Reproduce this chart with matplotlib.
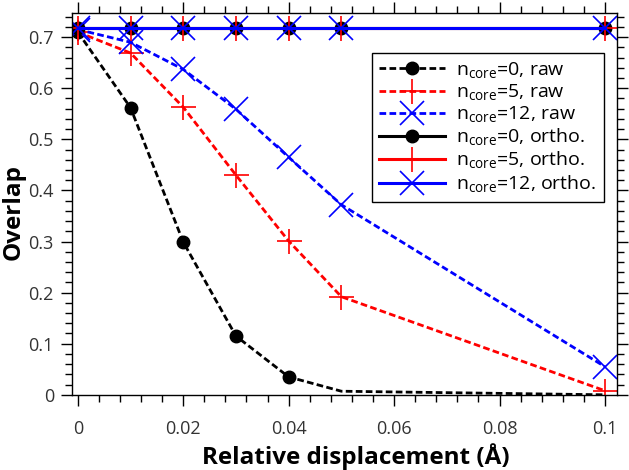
#Overlap vs relative displacement, raw and orthogonalised

import matplotlib
matplotlib.use('Agg')
import matplotlib.pyplot as plt
from matplotlib.ticker import MultipleLocator

"""
Values read off the reference plot
"""

disp = [0.0, 0.01, 0.02, 0.03, 0.04, 0.05, 0.1] #relative displacement, Angstrom
raw_n0 = [0.710, 0.562, 0.299, 0.115, 0.035, 0.007, 0.0]
raw_n5 = [0.710, 0.669, 0.563, 0.430, 0.301, 0.192, 0.008]
raw_n12 = [0.715, 0.690, 0.637, 0.559, 0.465, 0.372, 0.055]
ortho_n0 = [0.717, 0.717, 0.717, 0.717, 0.717, 0.717, 0.717]
ortho_n5 = [0.717, 0.717, 0.717, 0.717, 0.717, 0.717, 0.717]
ortho_n12 = [0.717, 0.717, 0.717, 0.717, 0.717, 0.717, 0.717]
labels = [r'n$_{\mathrm{core}}$=0, raw', r'n$_{\mathrm{core}}$=5, raw',
          r'n$_{\mathrm{core}}$=12, raw', r'n$_{\mathrm{core}}$=0, ortho.',
          r'n$_{\mathrm{core}}$=5, ortho.', r'n$_{\mathrm{core}}$=12, ortho.']

plt.rcParams['font.family'] = ['Open Sans', 'DejaVu Sans']
plt.rcParams['mathtext.fontset'] = 'custom'
plt.rcParams['mathtext.rm'] = 'Open Sans'

fig = plt.figure(figsize=(6.29, 4.70), dpi=100)
ax = fig.add_axes([0.1145, 0.16, 0.8665, 0.812])

dash = (0, (2.4, 1.2))
#raw curves
ax.plot(disp, raw_n0, color='k', ls=dash, lw=2.0, marker='o', ms=9,
        markevery=[0, 1, 2, 3, 4], label=labels[0])
ax.plot(disp, raw_n5, color='red', ls=dash, lw=2.0, marker='+', ms=18,
        mew=1.2, label=labels[1])
ax.plot(disp, raw_n12, color='blue', ls=dash, lw=2.0, marker='x', ms=17,
        mew=1.2, label=labels[2])
#orthogonalised curves
ax.plot(disp, ortho_n0, color='k', lw=2.2, marker='o', ms=9, label=labels[3])
ax.plot(disp, ortho_n5, color='red', lw=2.2, marker='+', ms=18, mew=1.2,
        label=labels[4])
ax.plot(disp, ortho_n12, color='blue', lw=2.2, marker='x', ms=17, mew=1.2,
        label=labels[5])

ax.set_xlim(-0.0011, 0.1023)
ax.set_ylim(0, 0.747)
ax.xaxis.set_major_locator(MultipleLocator(0.02))
ax.xaxis.set_minor_locator(MultipleLocator(0.004))
ax.yaxis.set_major_locator(MultipleLocator(0.1))
ax.yaxis.set_minor_locator(MultipleLocator(0.02))
ax.set_xticklabels(['0' if abs(t) < 1e-9 else '{:g}'.format(t)
                    for t in ax.get_xticks()])
ax.set_yticklabels(['0' if abs(t) < 1e-9 else '{:g}'.format(t)
                    for t in ax.get_yticks()])
ax.tick_params(which='both', direction='out', top=True, right=True,
               width=1.0, labelsize=13, colors='k', labelcolor='#333333')
ax.tick_params(which='major', length=8)
ax.tick_params(which='minor', length=5)
ax.tick_params(axis='x', which='major', pad=10)
ax.tick_params(axis='y', which='major', pad=5)
for s in ax.spines.values():
    s.set_linewidth(1.0)

ax.set_xlabel(u'Relative displacement (\u00c5)', fontsize=17.5, fontweight='bold')
ax.xaxis.set_label_coords(0.52, -0.128)
ax.set_ylabel('Overlap', fontsize=17.5, fontweight='bold')
ax.yaxis.set_label_coords(-0.085, 0.48)

leg = ax.legend(loc='upper right', bbox_to_anchor=(0.993, 0.92), fontsize=14,
                frameon=True, fancybox=False, edgecolor='k', framealpha=1,
                handlelength=3.4, labelspacing=0.1, borderpad=0.35,
                handletextpad=0.6)
leg.get_frame().set_linewidth(1.0)

plt.savefig('out.png')
